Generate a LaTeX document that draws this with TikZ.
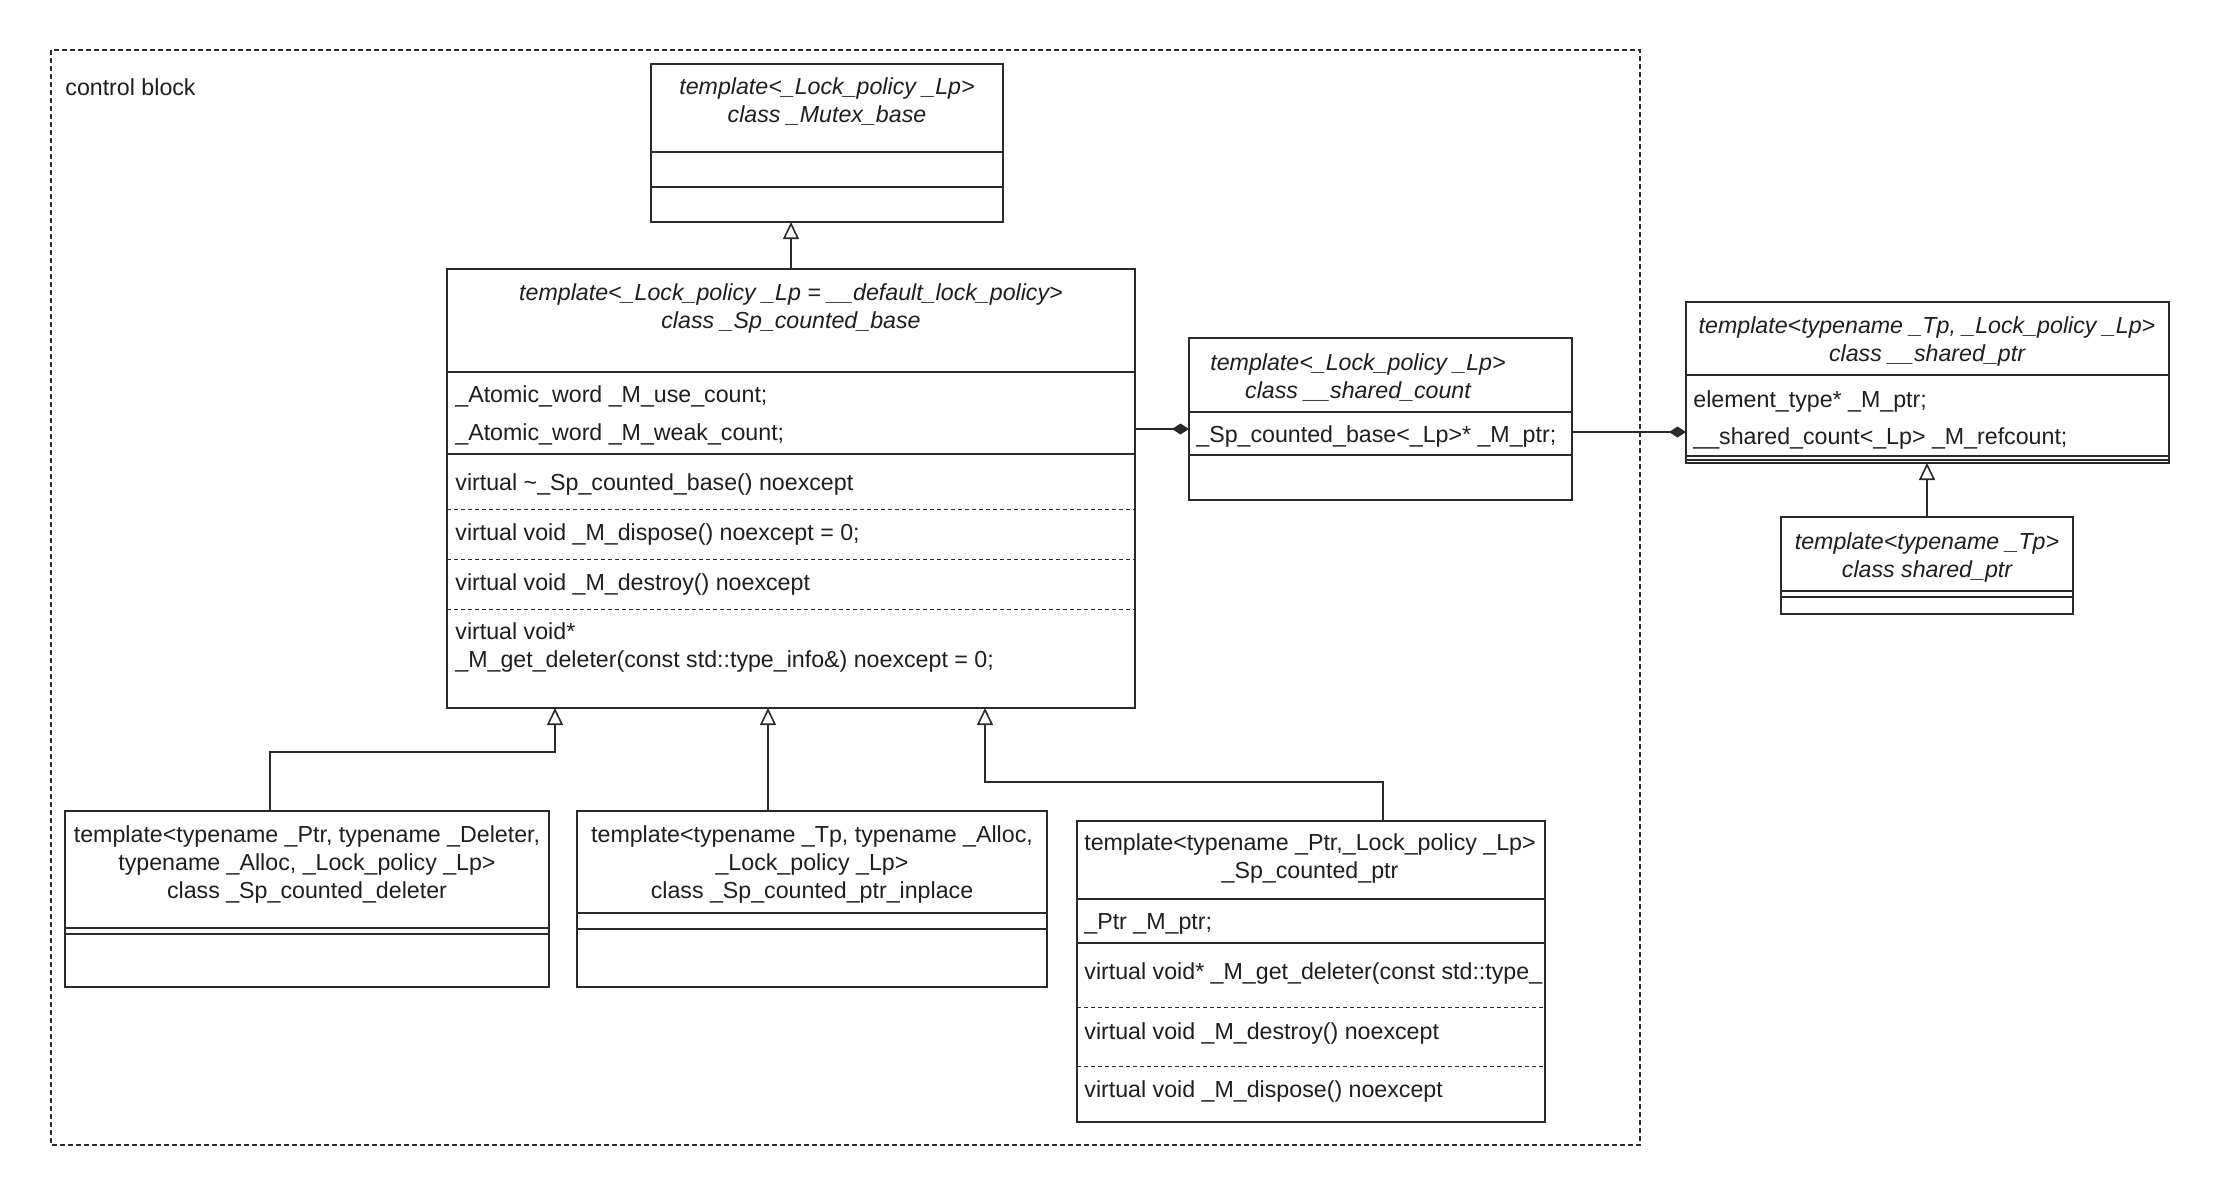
\documentclass[tikz,border=0pt]{standalone}
\usepackage{fontspec}
\setmainfont{Liberation Sans}
\usetikzlibrary{arrows.meta,fit}
\definecolor{umlline}{HTML}{2A2A2A}
\definecolor{umltext}{HTML}{1E1E1E}
\newcommand\umlfont{\fontsize{11.6}{14}\selectfont}
\tikzset{
  umlclass/.style={draw=umlline,line width=1pt,inner sep=0pt,outer sep=0pt,fit={#1}},
  ctitle/.style={font=\umlfont,text=umltext,inner sep=0pt,align=center},
  atitle/.style={ctitle,font=\umlfont\itshape},
  member/.style={font=\umlfont,text=umltext,inner sep=0pt,anchor=west,align=left},
  divider/.style={draw=umlline,line width=1pt},
  dotsep/.style={draw=umlline,line width=0.5pt,dash pattern=on 2pt off 1.5pt},
  blockframe/.style={draw=umlline,line width=0.6pt,dash pattern=on 2.5pt off 1.5pt},
  inherit/.style={draw=umlline,line width=0.8pt,-{Triangle[open,length=8.5pt,width=8pt]}},
  compose/.style={draw=umlline,line width=0.8pt,-{Diamond[length=8.5pt,width=5.5pt]}}
}
\begin{document}
\begin{tikzpicture}[x=0.5pt,y=-0.5pt]
\useasboundingbox (0,0) rectangle (2230,1190);
\draw[blockframe] (51,50) rectangle (1640,1145);
\node[member] (cblock) at (65,87) {control block};

\node[umlclass={(651,64) (1003,222)}] (mutex) {};
\node[atitle] (mutext) at (827,102) {template<\_Lock\_policy \_Lp>\\class \_Mutex\_base};
\draw[divider] (mutex.west |- 0,152) -- (mutex.east |- 0,152);
\draw[divider] (mutex.west |- 0,187) -- (mutex.east |- 0,187);

\node[umlclass={(447,269) (1135,708)}] (sbase) {};
\node[atitle] (sbaset) at (791,308) {template<\_Lock\_policy \_Lp = \_\_default\_lock\_policy>\\class \_Sp\_counted\_base};
\draw[divider] (sbase.west |- 0,372) -- (sbase.east |- 0,372);
\node[member] (sbase1) at (455,396) {\_Atomic\_word \_M\_use\_count;};
\node[member] (sbase2) at (455,434) {\_Atomic\_word \_M\_weak\_count;};
\draw[divider] (sbase.west |- 0,454) -- (sbase.east |- 0,454);
\node[member] (sbase3) at (455,484) {virtual \textasciitilde\_Sp\_counted\_base() noexcept};
\draw[dotsep] (sbase.west |- 0,509) -- (sbase.east |- 0,509);
\node[member] (sbase4) at (455,534) {virtual void \_M\_dispose() noexcept = 0;};
\draw[dotsep] (sbase.west |- 0,559) -- (sbase.east |- 0,559);
\node[member] (sbase5) at (455,584) {virtual void \_M\_destroy() noexcept};
\draw[dotsep] (sbase.west |- 0,609) -- (sbase.east |- 0,609);
\node[member] (sbase6) at (455,647) {virtual void*\\\_M\_get\_deleter(const std::type\_info\&) noexcept = 0;};

\node[umlclass={(1189,338) (1572,500)}] (scount) {};
\node[atitle] (scountt) at (1358,377) {template<\_Lock\_policy \_Lp>\\class \_\_shared\_count};
\draw[divider] (scount.west |- 0,412) -- (scount.east |- 0,412);
\node[member] (scount1) at (1196,436) {\_Sp\_counted\_base<\_Lp>* \_M\_ptr;};
\draw[divider] (scount.west |- 0,455) -- (scount.east |- 0,455);

\node[umlclass={(1686,302) (2169,463)}] (sptrbase) {};
\node[atitle] (sptrbaset) at (1927,341) {template<typename \_Tp, \_Lock\_policy \_Lp>\\class \_\_shared\_ptr};
\draw[divider] (sptrbase.west |- 0,375) -- (sptrbase.east |- 0,375);
\node[member] (sptrbase1) at (1693,401) {element\_type* \_M\_ptr;};
\node[member] (sptrbase2) at (1693,438) {\_\_shared\_count<\_Lp> \_M\_refcount;};
\draw[divider] (sptrbase.west |- 0,456) -- (sptrbase.east |- 0,456);
\draw[divider] (sptrbase.west |- 0,460) -- (sptrbase.east |- 0,460);

\node[umlclass={(1781,517) (2073,614)}] (sptr) {};
\node[atitle] (sptrt) at (1927,557) {template<typename \_Tp>\\class shared\_ptr};
\draw[divider] (sptr.west |- 0,591) -- (sptr.east |- 0,591);
\draw[divider] (sptr.west |- 0,597) -- (sptr.east |- 0,597);

\node[umlclass={(65,811) (549,987)}] (deleter) {};
\node[ctitle] (deletert) at (307,864) {template<typename \_Ptr, typename \_Deleter,\\typename \_Alloc, \_Lock\_policy \_Lp>\\class \_Sp\_counted\_deleter};
\draw[divider] (deleter.west |- 0,928) -- (deleter.east |- 0,928);
\draw[divider] (deleter.west |- 0,934) -- (deleter.east |- 0,934);

\node[umlclass={(577,811) (1047,987)}] (inplace) {};
\node[ctitle] (inplacet) at (812,864) {template<typename \_Tp, typename \_Alloc,\\\_Lock\_policy \_Lp>\\class \_Sp\_counted\_ptr\_inplace};
\draw[divider] (inplace.west |- 0,913) -- (inplace.east |- 0,913);
\draw[divider] (inplace.west |- 0,929) -- (inplace.east |- 0,929);

\node[umlclass={(1077,821) (1545,1122)}] (cptr) {};
\node[ctitle] (cptrt) at (1310,858) {template<typename \_Ptr,\_Lock\_policy \_Lp>\\\_Sp\_counted\_ptr};
\draw[divider] (cptr.west |- 0,899) -- (cptr.east |- 0,899);
\node[member] (cptr1) at (1084,924) {\_Ptr \_M\_ptr;};
\draw[divider] (cptr.west |- 0,943) -- (cptr.east |- 0,943);
\node[member] (cptr2) at (1084,973) {virtual void* \_M\_get\_deleter(const std::type\_};
\draw[dotsep] (cptr.west |- 0,1007) -- (cptr.east |- 0,1007);
\node[member] (cptr3) at (1084,1033) {virtual void \_M\_destroy() noexcept};
\draw[dotsep] (cptr.west |- 0,1066) -- (cptr.east |- 0,1066);
\node[member] (cptr4) at (1084,1091) {virtual void \_M\_dispose() noexcept};

\draw[inherit] (sbase.north) -- (sbase.north |- mutex.south);
\draw[inherit] (deleter.north -| 270,0) -- ++(0,-59) -| (sbase.south -| 555,0);
\draw[inherit] (inplace.north -| 768,0) -- (sbase.south -| 768,0);
\draw[inherit] (cptr.north -| 1383,0) -- ++(0,-39) -| (sbase.south -| 985,0);
\draw[inherit] (sptr.north) -- (sptr.north |- sptrbase.south);
\draw[compose] (sbase.east |- 0,429) -- (scount.west |- 0,429);
\draw[compose] (scount.east |- 0,432) -- (sptrbase.west |- 0,432);
\end{tikzpicture}
\end{document}
